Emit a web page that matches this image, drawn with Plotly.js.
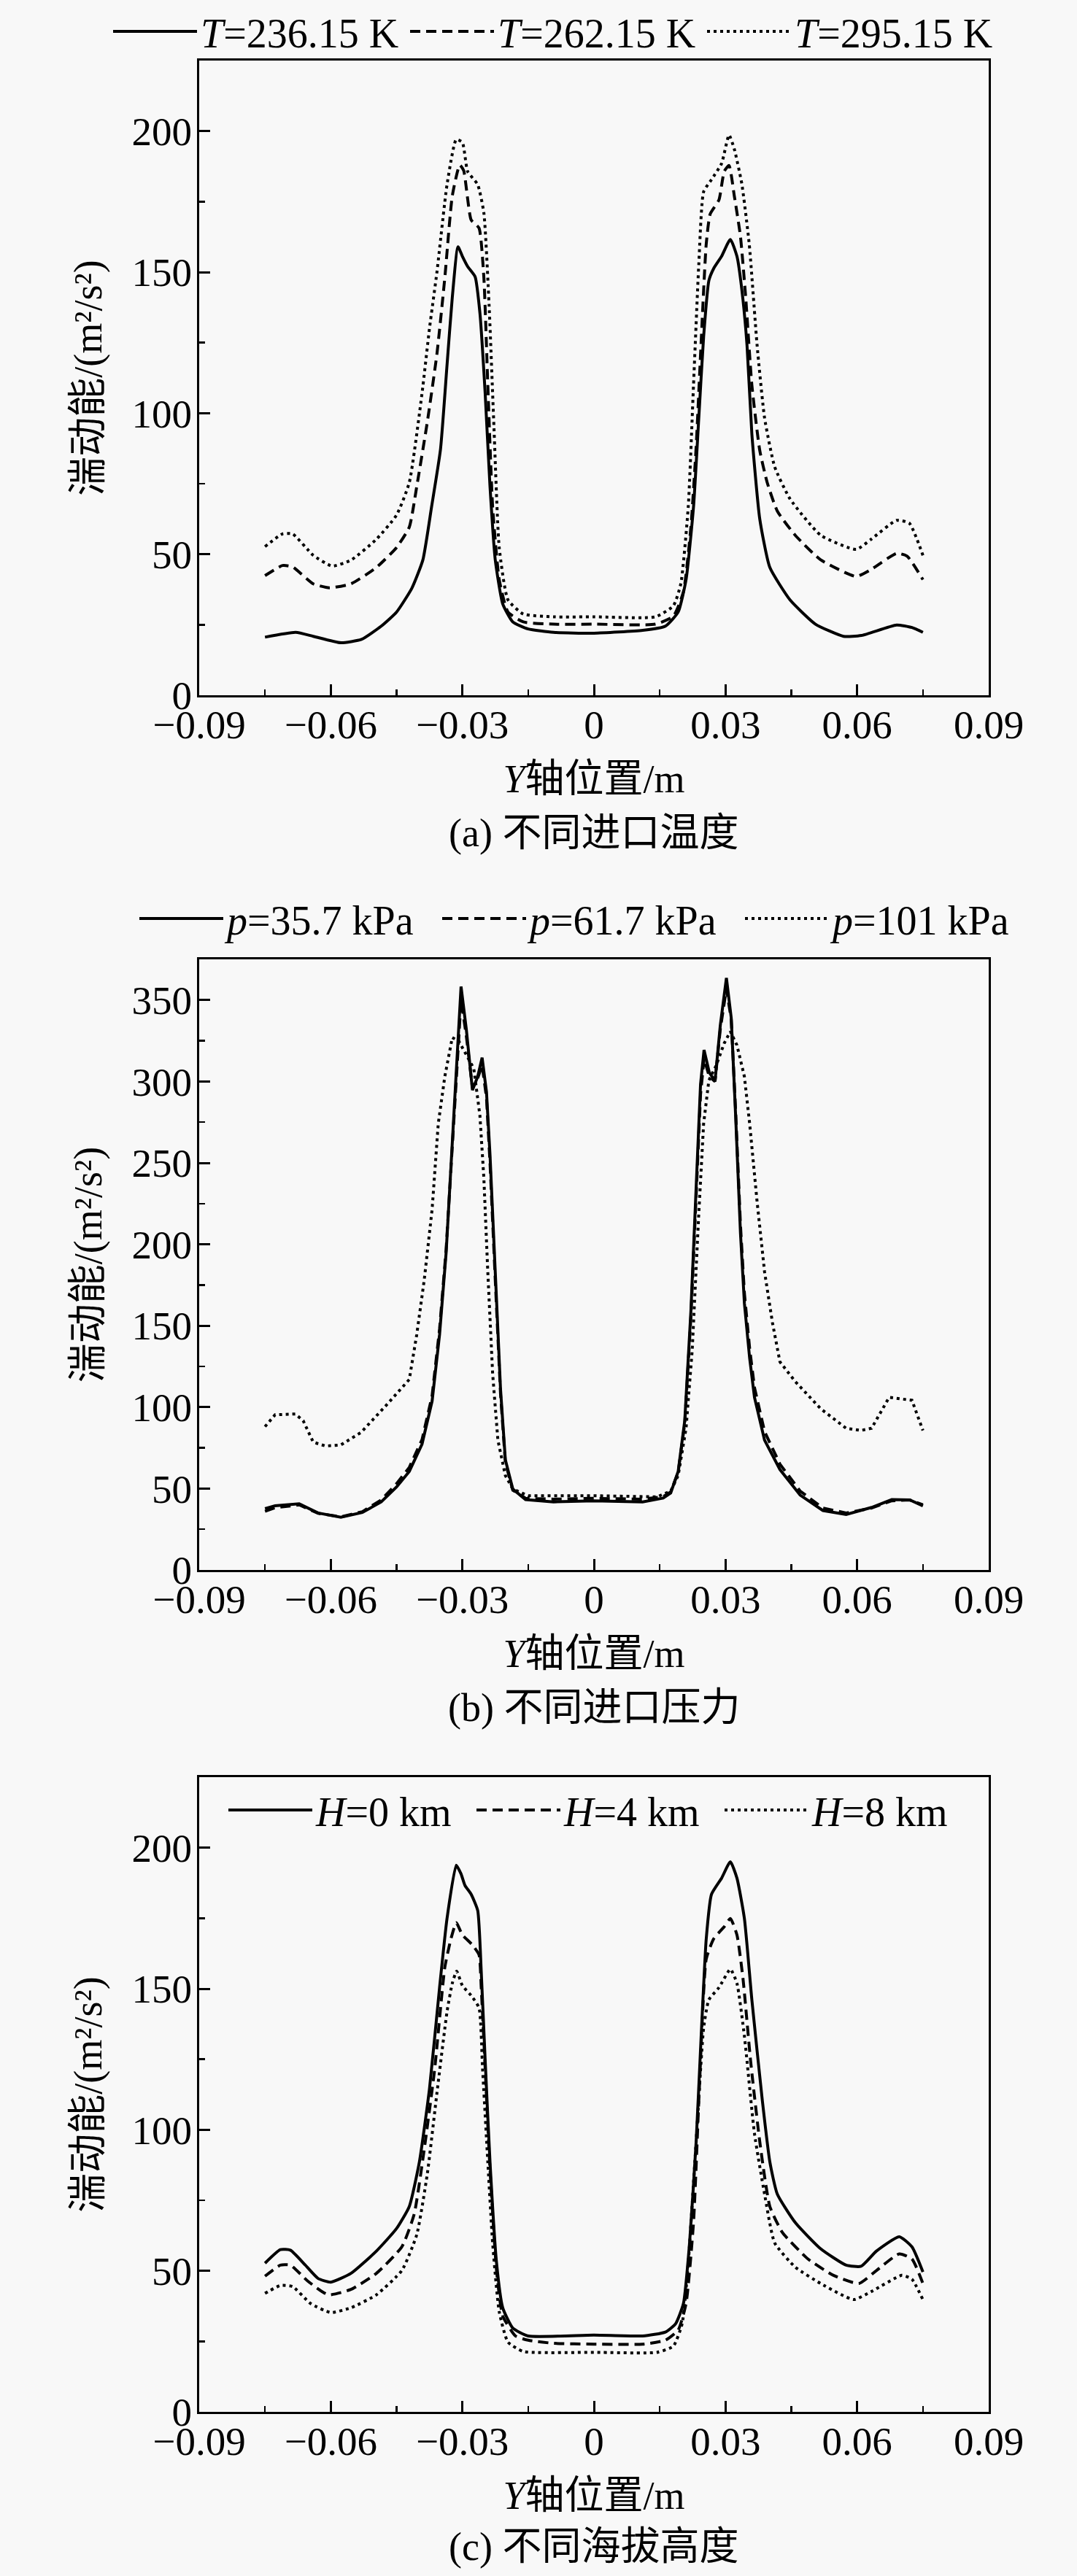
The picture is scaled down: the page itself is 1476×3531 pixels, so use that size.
<!DOCTYPE html>
<html>
<head>
<meta charset="utf-8">
<script src="https://cdn.plot.ly/plotly-3.0.1.min.js"></script>
<style>
  html, body { margin: 0; padding: 0; background: #f8f8f8; }
  #chart { width: 1476px; height: 3531px; }
</style>
</head>
<body>
<div id="chart"></div>
<script>
// ---------- tick labels ----------
const xTickVals = [-0.09, -0.06, -0.03, 0, 0.03, 0.06, 0.09];
const xTickText = ['\u22120.09', '\u22120.06', '\u22120.03', '0', '0.03', '0.06', '0.09'];
const yTickValsAC = [0, 50, 100, 150, 200];
const yTickValsB = [0, 50, 100, 150, 200, 250, 300, 350];

// ---------- legend names / titles ----------
const namesA = ['<i>T</i>=236.15 K', '<i>T</i>=262.15 K', '<i>T</i>=295.15 K'];
const namesB = ['<i>p</i>=35.7 kPa', '<i>p</i>=61.7 kPa', '<i>p</i>=101 kPa'];
const namesC = ['<i>H</i>=0 km', '<i>H</i>=4 km', '<i>H</i>=8 km'];
const captions = ['(a) 不同进口温度', '(b) 不同进口压力', '(c) 不同海拔高度'];
const xTitle = '<i>Y</i>轴位置/m';
const yTitle = '湍动能/(m\u00B2/s\u00B2)';

// ---------- (a) different inlet temperature ----------
const xT236 = [-0.075,-0.068,-0.064,-0.0577,-0.053,-0.0485,-0.045,-0.0415,-0.039,-0.037,-0.035,-0.0335,-0.0323,-0.031,-0.030,-0.0288,-0.0271,-0.026,-0.0248,-0.0237,-0.0225,-0.0208,-0.0185,-0.015,-0.0092,0,
  0.0111,0.0163,0.0192,0.021,0.0227,0.0239,0.025,0.0262,0.0273,0.0291,0.0311,0.0326,0.0337,0.0349,0.036,0.0378,0.0401,0.0447,0.0505,0.0569,0.061,0.069,0.0725,0.075];
const yT236 = [20.6,22.3,20.9,18.6,19.8,24.5,29.5,38,48,67,87,117,141,159,155.6,152,148.4,135.5,107,74,48,32.4,26,23.5,22.3,22,
  23,24.5,29.5,41,66.8,98.3,127,147,151.3,155.6,161.6,155.6,144,124,92.6,62.5,45.3,33.8,25.2,20.9,21.2,24.9,24,22.3];

const xT262 = [-0.075,-0.071,-0.0687,-0.064,-0.0603,-0.0554,-0.0496,-0.045,-0.0421,-0.0404,-0.038,-0.0358,-0.034,-0.0323,-0.0306,-0.0297,-0.028,-0.0262,-0.0251,-0.0242,-0.0231,-0.0216,-0.0196,-0.0161,-0.0092,0,
  0.014,0.0181,0.0204,0.0221,0.0233,0.0244,0.0256,0.0265,0.0285,0.0297,0.0308,0.032,0.0334,0.0346,0.036,0.0378,0.0395,0.0418,0.0459,0.0517,0.0598,0.0632,0.069,0.0714,0.075];
const yT262 = [42.4,46,45.5,39.5,38.1,39.5,45.3,52.4,59.6,74,96.8,121,148,177,188,186,168.5,165.6,148,110,66.8,41,29.5,26,25.2,25.2,
  25.2,28,36.7,59.6,88,124,160,170.6,175.6,185.7,187.8,177,162.7,141,110,86.8,75.4,65.3,56.7,48,42.1,44.6,50.3,49.3,41];

const xT295 = [-0.075,-0.071,-0.0687,-0.064,-0.0597,-0.0554,-0.0496,-0.045,-0.0421,-0.0392,-0.0375,-0.0358,-0.0335,-0.0314,-0.030,-0.0288,-0.0265,-0.0251,-0.0239,-0.0228,-0.0216,-0.0196,-0.0161,-0.0092,0,
  0.014,0.0181,0.0198,0.0215,0.0227,0.0239,0.025,0.0268,0.0291,0.0308,0.032,0.0337,0.0354,0.0372,0.0389,0.0412,0.0447,0.0517,0.0598,0.0632,0.069,0.0719,0.075];
const yT295 = [52.7,57.2,57.2,49.6,45.8,47.9,55.3,63.9,75.4,107,130,150,181,197,196,185.7,181,171,138,95,52.4,33.8,28.8,27.8,27.8,
  27.8,31.7,39.5,66.8,110,152.7,178.5,182.8,188.5,198.6,193.6,181.4,160,124,98.3,81,69.6,56.7,51.7,55.3,62,61,49.6];

// ---------- (b) different inlet pressure ----------
const xP357 = [-0.075,-0.0727,-0.0672,-0.0629,-0.0577,-0.0528,-0.0485,-0.045,-0.0421,-0.0392,-0.0369,-0.0352,-0.0337,-0.0323,-0.0312,-0.0303,-0.0291,-0.0277,-0.0265,-0.0255,-0.0245,-0.0237,-0.0225,-0.0213,-0.0202,-0.0185,-0.0156,-0.0092,0,
  0.0111,0.0158,0.0175,0.0192,0.0207,0.0221,0.0233,0.0243,0.0251,0.0263,0.0276,0.0288,0.0302,0.0313,0.0323,0.0334,0.0343,0.0355,0.0366,0.0389,0.0424,0.047,0.0522,0.0575,0.0633,0.0679,0.072,0.075];
const yP357 = [37.7,39.4,40.6,35,32.4,35.3,41.8,51,60.5,77.3,103.7,144.6,195,260,315,358.3,332,294.7,303,314.6,293.5,255,183,111,67.7,49.7,43.2,41.8,42.5,
  41.8,44.2,47.3,60.5,91.7,159,231,298.3,319.4,305.5,300.2,334.3,363.6,339,279,207,163.8,130,106,79.7,61.7,46,36.5,34.1,38.4,43.2,43,39.4];

const xP617 = [-0.075,-0.0727,-0.0672,-0.0629,-0.0577,-0.0528,-0.0485,-0.045,-0.0421,-0.0392,-0.0369,-0.0352,-0.0337,-0.0323,-0.0312,-0.0303,-0.0291,-0.0277,-0.0265,-0.0255,-0.0245,-0.0237,-0.0225,-0.0213,-0.0202,-0.0185,-0.0156,-0.0092,0,
  0.0111,0.0158,0.0175,0.0192,0.0207,0.0221,0.0233,0.0243,0.0251,0.0263,0.0276,0.0288,0.0302,0.0313,0.0323,0.0334,0.0343,0.0355,0.0366,0.0389,0.0424,0.047,0.0522,0.0575,0.0633,0.0679,0.072,0.075];
const yP617 = [36,38.2,40,34.8,32.6,35.8,43,53,63,80,107,148,197,258,310,350,328,296,302,310,290,250,178,108,66,49,44,43.5,44,
  43.5,45,48,60,90,155,226,292,314,303,300,332,357,338,282,212,170,136,112,85,65,48.5,38,35,38,42.5,43,40];

const xP101 = [-0.075,-0.0727,-0.0681,-0.0663,-0.064,-0.0612,-0.0577,-0.0531,-0.0473,-0.0421,-0.0404,-0.0387,-0.0369,-0.0355,-0.034,-0.0323,-0.0308,-0.0294,-0.0274,-0.026,-0.0251,-0.0242,-0.0231,-0.0219,-0.0202,-0.0185,-0.015,0,
  0.0144,0.0175,0.0192,0.021,0.0224,0.0239,0.025,0.0262,0.0279,0.0297,0.0311,0.0326,0.0343,0.0355,0.0372,0.0389,0.0407,0.0424,0.0459,0.0517,0.0575,0.0609,0.0633,0.0673,0.0702,0.0725,0.075];
const yP101 = [88,95.3,95.8,91.7,78.5,76.1,76.8,84.5,101.3,117,144.6,178,221.4,274,303,327,324.7,317.5,308,279,240.6,183,120.6,79.7,58,49.7,45.6,45.6,
  44.9,48.5,58,87,135,219,274,300.7,310,323.5,330.7,322.3,303,274,226,183,151.8,127.8,115.7,99,87,85.7,87,106,105,104.2,85.7];

// ---------- (c) different altitude ----------
const xH0 = [-0.075,-0.0715,-0.0692,-0.0658,-0.0629,-0.06,-0.0554,-0.0496,-0.045,-0.0421,-0.0398,-0.0375,-0.0352,-0.0335,-0.0314,-0.0303,-0.0294,-0.028,-0.0265,-0.0257,-0.0248,-0.0237,-0.0222,-0.0208,-0.0185,-0.015,0,
  0.0111,0.0163,0.0186,0.0204,0.0218,0.0233,0.0244,0.0256,0.0268,0.0291,0.0311,0.0326,0.0343,0.036,0.0384,0.0401,0.0418,0.0459,0.0517,0.0575,0.0609,0.0644,0.0696,0.0725,0.075];
const yH0 = [52.7,57.5,57.3,52,47.3,46,49.1,57,65,72.8,88.6,114.5,150.4,174.9,193.8,190.7,186.6,183.5,177.7,156.2,124.6,88.6,52.7,36.9,29.7,26.9,27.2,
  26.9,28.3,31.2,38.4,59.9,95.8,131.8,167.7,183.5,189.2,195,189.2,174.9,146.1,110.2,88.6,77.2,67.1,57.8,52,51.6,57,62.1,58.5,49.6];

const xH4 = [-0.075,-0.0715,-0.0692,-0.0652,-0.0606,-0.0554,-0.0496,-0.0438,-0.041,-0.0387,-0.0363,-0.034,-0.0326,-0.0314,-0.03,-0.0277,-0.0262,-0.0257,-0.0248,-0.0237,-0.0222,-0.0208,-0.0179,-0.015,-0.0092,0,
  0.0111,0.0163,0.0192,0.021,0.0227,0.0241,0.0256,0.0273,0.0297,0.0311,0.0326,0.034,0.0357,0.0378,0.0401,0.043,0.0488,0.0546,0.0604,0.0644,0.0696,0.0725,0.075];
const yH4 = [48.1,52,52,46.3,41.5,43.4,49.1,58.5,70,93,121.7,157.6,167.7,173.4,169.1,165.5,162,150.4,121.7,85.8,49.9,34,26.9,25.4,24.3,24,
  24,25.4,29,38.4,67.1,117.4,160.5,167.7,172,174.9,169.1,153.3,124.6,95.8,72.8,63.5,54.2,48.4,45.5,50.1,56,54.2,45.5];

const xH8 = [-0.075,-0.0715,-0.0687,-0.0646,-0.06,-0.0554,-0.0496,-0.0438,-0.0404,-0.038,-0.0358,-0.0335,-0.0323,-0.0313,-0.03,-0.028,-0.0262,-0.0254,-0.0242,-0.0231,-0.0216,-0.0196,-0.0161,0,
  0.0144,0.0181,0.0201,0.0215,0.0233,0.025,0.0262,0.0285,0.0311,0.0326,0.0343,0.0366,0.0389,0.0412,0.0459,0.0517,0.0592,0.0633,0.0702,0.0725,0.075];
const yH8 = [42,44.8,44.4,38.4,35.2,36.9,41.5,50.1,62.8,84.3,113,141.8,151.9,156.2,151.1,147.6,143.2,121.7,88.6,59.9,35.5,24.7,21.4,21.1,
  21.1,23.3,31.2,52.7,95.8,136,146.1,150.4,156.9,151.9,133.2,98.6,77.2,59.9,51.3,45.5,39.8,42.7,48.4,47,39.8];

// ---------- styling ----------
const FONT = '"Liberation Serif", "Noto Sans CJK SC", serif';
const W = 1476, H = 3531;
const dashes = ['solid', '14px,8px', '4px,5px'];

function mkTrace(x, y, name, i, ax, leg, shape) {
  return {
    x: x, y: y, name: name, type: 'scatter', mode: 'lines',
    xaxis: 'x' + ax, yaxis: 'y' + ax, legend: leg,
    line: { color: '#000', width: 4, dash: dashes[i], shape: shape, smoothing: 0.5 }
  };
}

const traces = [
  mkTrace(xT236, yT236, namesA[0], 0, '', 'legend', 'spline'),
  mkTrace(xT262, yT262, namesA[1], 1, '', 'legend', 'spline'),
  mkTrace(xT295, yT295, namesA[2], 2, '', 'legend', 'spline'),
  mkTrace(xP357, yP357, namesB[0], 0, '2', 'legend2', 'linear'),
  mkTrace(xP617, yP617, namesB[1], 1, '2', 'legend2', 'linear'),
  mkTrace(xP101, yP101, namesB[2], 2, '2', 'legend2', 'linear'),
  mkTrace(xH0, yH0, namesC[0], 0, '3', 'legend3', 'spline'),
  mkTrace(xH4, yH4, namesC[1], 1, '3', 'legend3', 'spline'),
  mkTrace(xH8, yH8, namesC[2], 2, '3', 'legend3', 'spline')
];

const xDom = [273 / W, 1355 / W];
function pY(px) { return 1 - px / H; }

function xAxis(anchor) {
  return {
    domain: xDom, anchor: anchor, range: [-0.09, 0.09],
    tickmode: 'array', tickvals: xTickVals, ticktext: xTickText,
    ticks: 'inside', ticklen: 15, tickwidth: 3, tickcolor: '#000',
    minor: { dtick: 0.015, tick0: 0, ticks: 'inside', ticklen: 8, tickwidth: 2.5, tickcolor: '#000' },
    showline: true, linewidth: 3, linecolor: '#000', mirror: true,
    showgrid: false, zeroline: false, automargin: false,
    ticklabelstandoff: -10,
    tickfont: { family: FONT, size: 55, color: '#000' },
    title: { text: xTitle, font: { family: FONT, size: 54, color: '#000' }, standoff: 26 }
  };
}
function yAxis(anchor, dom, range, tv) {
  return {
    domain: dom, anchor: anchor, range: range,
    tickmode: 'array', tickvals: tv,
    ticks: 'inside', ticklen: 15, tickwidth: 3, tickcolor: '#000',
    minor: { dtick: 25, tick0: 0, ticks: 'inside', ticklen: 8, tickwidth: 2.5, tickcolor: '#000' },
    showline: true, linewidth: 3, linecolor: '#000', mirror: true,
    showgrid: false, zeroline: false, automargin: false,
    ticklabelstandoff: -4,
    tickfont: { family: FONT, size: 55, color: '#000' },
    title: { text: yTitle, font: { family: FONT, size: 54, color: '#000' }, standoff: 24 }
  };
}
function legendAt(xpx, ypx, ew, anchor) {
  return {
    orientation: 'h',
    x: xpx / W, xanchor: 'left', y: ypx === 0 ? 1 : pY(ypx), yanchor: anchor,
    font: { family: FONT, size: 56, color: '#000' },
    bgcolor: 'rgba(0,0,0,0)', borderwidth: 0, itemwidth: 115,
    entrywidth: ew, entrywidthmode: 'pixels',
    traceorder: 'normal', itemclick: false, itemdoubleclick: false
  };
}

const layout = {
  width: W, height: H,
  margin: { l: 0, r: 0, t: 0, b: 0 },
  paper_bgcolor: '#f8f8f8', plot_bgcolor: '#f8f8f8',
  font: { family: FONT, color: '#000' },
  showlegend: true,
  xaxis: xAxis('y'),
  yaxis: yAxis('x', [pY(953), pY(83)], [0, 225], yTickValsAC),
  xaxis2: xAxis('y2'),
  yaxis2: yAxis('x2', [pY(2152), pY(1315)], [0, 375], yTickValsB),
  xaxis3: xAxis('y3'),
  yaxis3: yAxis('x3', [pY(3306), pY(2436)], [0, 225], yTickValsAC),
  legend: legendAt(150, 0, 277, 'top'),
  legend2: legendAt(186, 1259, 285, 'middle'),
  legend3: legendAt(308, 2481, 210, 'middle'),
  annotations: [
    { text: captions[0], x: 814 / W, y: pY(1142) },
    { text: captions[1], x: 814 / W, y: pY(2341) },
    { text: captions[2], x: 814 / W, y: pY(3491) }
  ].map(a => Object.assign(a, {
    xref: 'paper', yref: 'paper', xanchor: 'center', yanchor: 'middle',
    showarrow: false, font: { family: FONT, size: 54, color: '#000' }
  }))
};

Plotly.newPlot('chart', traces, layout, { staticPlot: true, displayModeBar: false });
</script>
</body>
</html>
